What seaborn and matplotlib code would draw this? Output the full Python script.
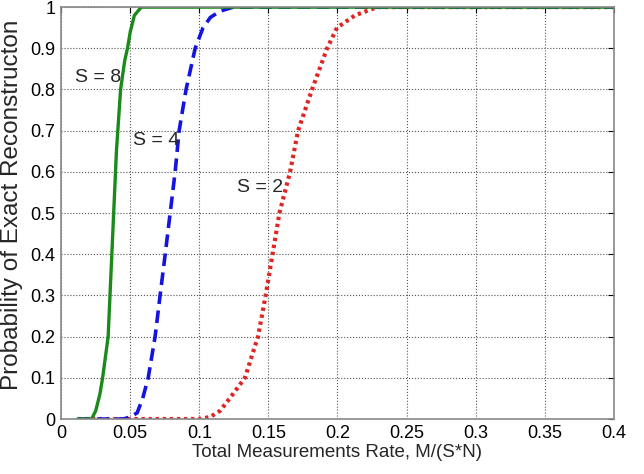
import numpy as np
import pandas as pd
import matplotlib
matplotlib.use('Agg')
import matplotlib.pyplot as plt
import seaborn as sns

# curves
x_s8 = [0.012, 0.022, 0.025, 0.028, 0.030, 0.034, 0.036, 0.038, 0.040, 0.043, 0.046, 0.048, 0.050, 0.053, 0.058, 0.4]
y_s8 = [0, 0, 0.02, 0.06, 0.1, 0.2, 0.35, 0.5, 0.65, 0.8, 0.87, 0.9, 0.94, 0.98, 1, 1]

x_s4 = [0.012, 0.045, 0.05, 0.055, 0.059, 0.063, 0.068, 0.0716, 0.0753, 0.0789, 0.0825, 0.0854, 0.0904, 0.097, 0.1027, 0.108, 0.115, 0.1245, 0.4]
y_s4 = [0, 0, 0.005, 0.015, 0.05, 0.1, 0.2, 0.3, 0.4, 0.5, 0.6, 0.7, 0.8, 0.9, 0.95, 0.975, 0.99, 1, 1]

x_s2 = [0.012, 0.10, 0.108, 0.115, 0.122, 0.133, 0.1425, 0.148, 0.153, 0.158, 0.1657, 0.1715, 0.1816, 0.1925, 0.1997, 0.2127, 0.2287, 0.4]
y_s2 = [0, 0, 0.005, 0.02, 0.05, 0.1, 0.2, 0.3, 0.4, 0.5, 0.6, 0.7, 0.8, 0.9, 0.95, 0.98, 1, 1]

labels = ['S = 8', 'S = 4', 'S = 2']
label_pos = [(0.0264, 0.83), (0.0687, 0.677), (0.144, 0.563)]

sns.set_style('white')
plt.rcParams['font.family'] = ['Liberation Sans', 'DejaVu Sans']

fig = plt.figure(figsize=(6.44, 4.74), dpi=100)
ax = fig.add_axes([0.095, 0.116, 0.858, 0.869])

sns.lineplot(x=x_s2, y=y_s2, ax=ax, color='#e02424', linewidth=3, linestyle=(0, (0.8, 0.9)), sort=False)
sns.lineplot(x=x_s4, y=y_s4, ax=ax, color='#1414e0', linewidth=2.6, linestyle=(0, (3.5, 1.8)), sort=False)
sns.lineplot(x=x_s8, y=y_s8, ax=ax, color='#1a8a1a', linewidth=2.4, sort=False)

for t, (tx, ty) in zip(labels, label_pos):
    ax.text(tx, ty, t, ha='center', va='center', fontsize=14)

ax.set_xlim(0, 0.4)
ax.set_ylim(0, 1)
ax.set_xticks(np.arange(0, 0.41, 0.05))
ax.set_xticklabels(['0', '0.05', '0.1', '0.15', '0.2', '0.25', '0.3', '0.35', '0.4'])
ax.set_yticks(np.arange(0, 1.01, 0.1))
ax.set_yticklabels(['0', '0.1', '0.2', '0.3', '0.4', '0.5', '0.6', '0.7', '0.8', '0.9', '1'])
ax.grid(True, linestyle=':', color='#555555', linewidth=0.8)
ax.tick_params(direction='in', top=True, right=True, length=4, labelsize=13, colors='black', pad=4)
for s in ax.spines.values():
    s.set_color('#888888')
    s.set_linewidth(1.2)

ax.set_xlabel('Total Measurements Rate, M/(S*N)', fontsize=13.5, labelpad=2)
ax.set_ylabel('Probability of Exact Reconstructon', fontsize=17.5)
ax.yaxis.set_label_coords(-0.07, 0.52)

fig.savefig('out.png', dpi=100)
